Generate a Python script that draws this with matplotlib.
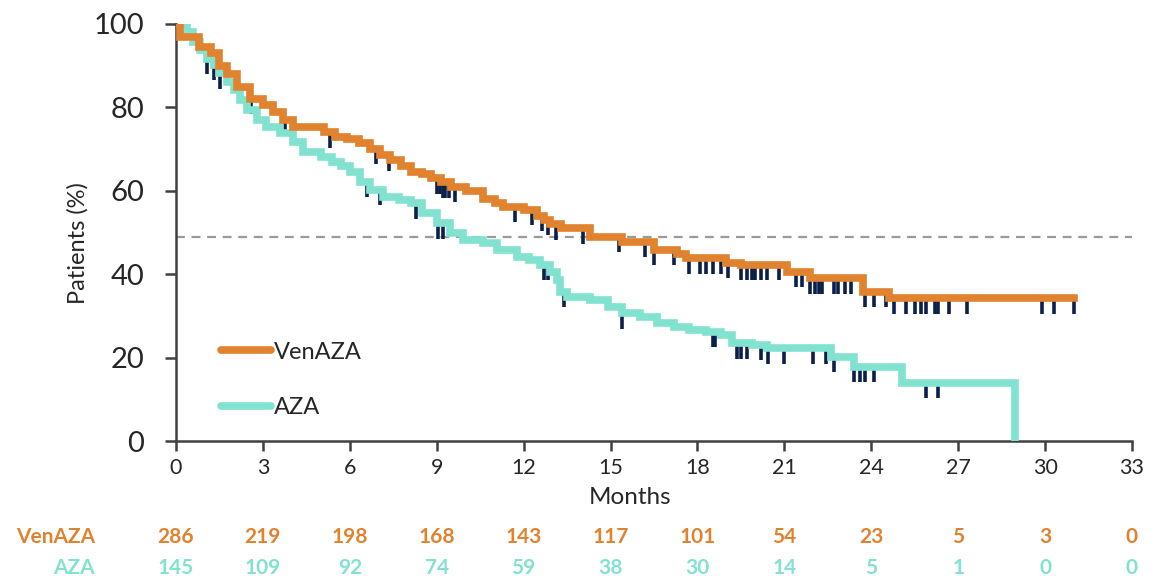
import numpy as np
import matplotlib
matplotlib.use("Agg")
import matplotlib.pyplot as plt
from matplotlib.lines import Line2D
import matplotlib.transforms as mtransforms

plt.rcParams['font.family'] = ['Lato', 'DejaVu Sans']

# ---------------- data ----------------
months_ticks = [0, 3, 6, 9, 12, 15, 18, 21, 24, 27, 30, 33]
y_ticks = [0, 20, 40, 60, 80, 100]

ven_t = [0, 0.15, 0.8, 1.2, 1.5, 1.75, 2.1, 2.55, 3.0, 3.35,
         3.7, 4.05, 5.1, 5.5, 5.9, 6.3, 6.7, 7.05, 7.4, 7.75,
         8.1, 8.5, 8.8, 9.15, 9.5, 10.0, 10.6, 11.0, 11.3, 12.0,
         12.45, 12.7, 12.9, 13.3, 14.3, 15.4, 16.5, 17.3, 17.6, 19.0,
         19.5, 21.1, 21.9, 23.7, 24.6]
ven_s = [100, 97, 94.5, 93, 90, 88, 85, 82, 80.5, 79,
         77, 75.4, 74, 73, 72.5, 71.5, 70, 68.5, 67.5, 66,
         64.6, 64, 63, 62, 61, 60, 58, 57, 56.2, 55.5,
         54, 53, 52, 51, 49, 47.8, 45.8, 44.8, 43.8, 42.8,
         42.2, 40.6, 39, 35.8, 34.2]
ven_end = 31.0

aza_t = [0, 0.37, 0.6, 0.83, 1.06, 1.3, 1.5, 1.75, 2.0, 2.2,
         2.44, 2.8, 3.1, 3.6, 4.05, 4.4, 5.0, 5.4, 5.7, 6.0,
         6.35, 6.7, 7.16, 7.7, 8.1, 8.5, 9.0, 9.46, 9.9, 10.6,
         11.07, 11.76, 12.2, 12.56, 12.9, 13.14, 13.25, 13.5, 14.3, 14.9,
         15.4, 16.0, 16.6, 17.2, 17.7, 18.3, 18.8, 19.2, 19.9, 20.4,
         22.6, 23.4, 25.05, 28.96]
aza_s = [100, 98, 95.7, 93.8, 91.7, 90.2, 88.2, 86.2, 84.2, 81.8,
         79.4, 77, 75.4, 73.8, 71.8, 69.4, 68.2, 67, 66, 64.5,
         62.2, 60.2, 58.6, 57.8, 57, 54.6, 52.2, 49.8, 48.2, 47.4,
         45.8, 44.2, 43.4, 42.2, 40.6, 38.6, 35.8, 34.6, 33.8, 32.2,
         30.6, 29.8, 28.2, 27.4, 26.6, 26.2, 25.4, 23.4, 23, 22.2,
         20.2, 17.8, 14, 0]

ven_censor = [2.6, 3.76, 5.3, 6.9, 7.36, 9.0, 9.1, 9.2, 9.3, 9.43, 9.64,
              11.7, 12.3, 12.65, 12.85, 13.1, 14.06, 15.3, 16.2, 16.5,
              17.2, 17.7, 18.1, 18.3, 18.55, 18.8, 19.05, 19.5, 19.7,
              19.87, 20.0, 20.2, 20.4, 20.8, 21.4, 21.6, 21.9, 22.05,
              22.2, 22.3, 22.7, 22.85, 23.1, 23.3, 23.8, 24.1, 24.5,
              24.8, 25.2, 25.5, 25.7, 25.9, 26.2, 26.3, 26.7, 27.3,
              29.9, 30.3, 31.0]
aza_censor = [1.06, 1.3, 1.52, 6.6, 7.04, 8.28, 9.05, 9.2, 12.7, 12.85,
              13.4, 15.4, 18.55, 18.6, 19.35, 19.5, 19.7, 20.2, 20.45,
              21.0, 22.0, 22.45, 22.7, 23.4, 23.6, 23.8, 24.1, 25.9, 26.3]

median_line = 49

risk_ven = [286, 219, 198, 168, 143, 117, 101, 54, 23, 5, 3, 0]
risk_aza = [145, 109, 92, 74, 59, 38, 30, 14, 5, 1, 0, 0]

labels = ['VenAZA', 'AZA']

# ---------------- style ----------------
C_VEN = '#E0822E'
C_AZA = '#82E2D0'
C_NAVY = '#0B1F4B'
C_AX = '#404040'
C_TXT = '#262626'

fig = plt.figure(figsize=(11.6, 5.81), dpi=100)
ax = fig.add_axes([176/1160, 1-441/581, (1132-176)/1160, (441-24)/581])


def step_value(t, s, x):
    idx = np.searchsorted(np.asarray(t), np.asarray(x), side='right') - 1
    return np.asarray(s)[idx]


# dashed median reference
ax.axhline(median_line, color='#9a9a9a', lw=1.6, ls=(0, (4, 3)), zorder=1)

# censor ticks (hang below the curve)
for t, s, cen in [(ven_t, ven_s, ven_censor), (aza_t, aza_s, aza_censor)]:
    cy = step_value(t, s, cen) - 2.0
    ax.plot(cen, cy, ls='none', marker='|', ms=9.5, mew=2.6, color=C_NAVY, zorder=2)

# curves
ax.plot(aza_t, aza_s, drawstyle='steps-post', color=C_AZA, lw=5.5, zorder=3,
        solid_joinstyle='miter')
ax.plot(list(ven_t) + [ven_end], list(ven_s) + [ven_s[-1]], drawstyle='steps-post',
        color=C_VEN, lw=5.5, zorder=4, solid_joinstyle='miter')

ax.set_xlim(0, 33)
ax.set_ylim(0, 100)
ax.set_xticks(months_ticks)
ax.set_yticks(y_ticks)
ax.tick_params(axis='y', labelsize=21, length=8, width=1.8, color=C_AX, pad=15,
               labelcolor=C_TXT)
ax.tick_params(axis='x', labelsize=15.5, length=7, width=1.8, color=C_AX, pad=5,
               labelcolor=C_TXT)
for side in ['top', 'right']:
    ax.spines[side].set_visible(False)
for side in ['left', 'bottom']:
    ax.spines[side].set_color(C_AX)
    ax.spines[side].set_linewidth(1.8)

fig.text(78/1160, 1-243/581, 'Patients (%)', rotation=90, ha='center', va='center',
         fontsize=17, color=C_TXT)
fig.text(630/1160, 1-498/581, 'Months', ha='center', va='center', fontsize=17.5,
         color=C_TXT)

# legend
handles = [Line2D([0], [0], color=C_VEN, lw=5.5, solid_capstyle='round'),
           Line2D([0], [0], color=C_AZA, lw=5.5, solid_capstyle='round')]
leg = ax.legend(handles, labels, loc='upper left', bbox_to_anchor=(0.047, 0.238),
                frameon=False, fontsize=17, handlelength=2.1, handletextpad=0.15,
                labelspacing=1.45, borderpad=0, borderaxespad=0)
for txt in leg.get_texts():
    txt.set_color(C_TXT)

# number at risk table
trans = mtransforms.blended_transform_factory(ax.transData, fig.transFigure)
row_y = [1-537/581, 1-568/581]
for vals, yy, col in [(risk_ven, row_y[0], C_VEN), (risk_aza, row_y[1], C_AZA)]:
    for xm, v in zip(months_ticks, vals):
        ax.text(xm, yy, str(v), transform=trans, ha='center', va='center',
                fontsize=15, fontweight='bold', color=col, clip_on=False)
for lab, yy, col in zip(labels, row_y, [C_VEN, C_AZA]):
    fig.text(95/1160, yy, lab, ha='right', va='center', fontsize=15,
             fontweight='bold', color=col)

fig.savefig('out.png', dpi=100)
